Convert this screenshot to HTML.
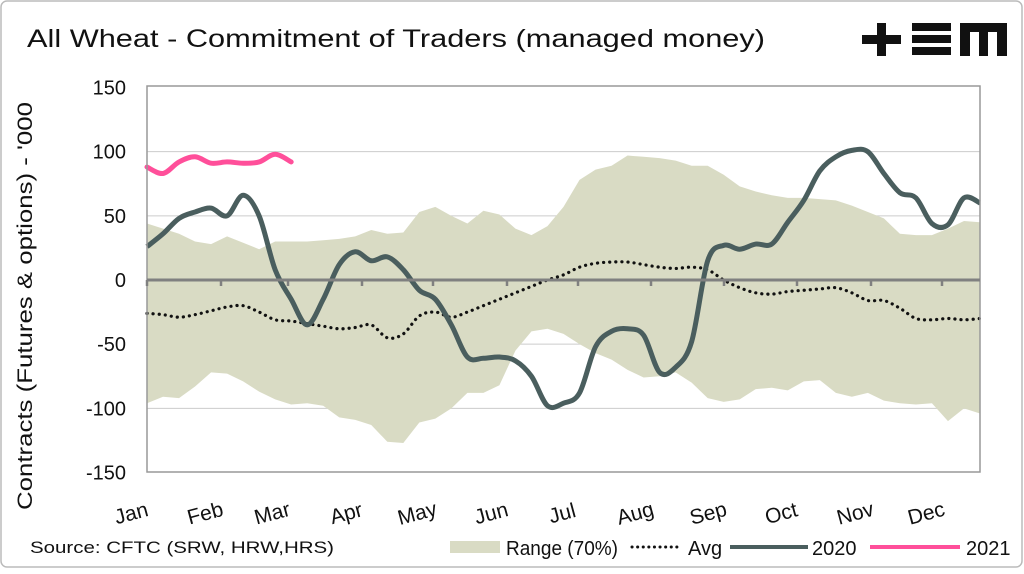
<!DOCTYPE html>
<html><head><meta charset="utf-8"><style>
html,body{margin:0;padding:0;background:#fff;}
body{width:1024px;height:569px;overflow:hidden;font-family:"Liberation Sans",sans-serif;}
</style></head><body>
<svg id="chart" width="1024" height="569" viewBox="0 0 1024 569" xmlns="http://www.w3.org/2000/svg" font-family="Liberation Sans, sans-serif">
<rect x="1" y="1" width="1021" height="566" rx="6" fill="#fff" stroke="#bbb" stroke-width="1.5"/>
<text x="27" y="47" font-size="25" fill="#111" textLength="738" lengthAdjust="spacingAndGlyphs">All Wheat - Commitment of Traders (managed money)</text>
<g fill="#111">
<rect x="862" y="35" width="39" height="9"/><rect x="877" y="23" width="9" height="33"/>
<rect x="912" y="23" width="39" height="8"/><rect x="912" y="35" width="39" height="8"/><rect x="912" y="47" width="39" height="8"/>
<path d="M960 23 H1007 V56 H997 V32 H988 V56 H979 V32 H970 V56 H960 Z"/>
</g>
<g id="grid"></g>
<g id="series"></g>
<rect x="147" y="86" width="833" height="386" fill="none" stroke="#999" stroke-width="1.5"/>
<g id="axes"></g>
<text transform="translate(32,306) rotate(-90)" text-anchor="middle" font-size="21" fill="#111" textLength="408" lengthAdjust="spacingAndGlyphs">Contracts (Futures &amp; options) - '000</text>
<text x="30" y="553" font-size="17" fill="#111" textLength="304" lengthAdjust="spacingAndGlyphs">Source: CFTC (SRW, HRW,HRS)</text>
<g font-size="20" fill="#111">
<rect x="450" y="541" width="50" height="12" fill="#d9dbc4"/>
<text x="506" y="555" textLength="112" lengthAdjust="spacingAndGlyphs">Range (70%)</text>
<line x1="632" y1="547" x2="680" y2="547" stroke="#111" stroke-width="3" stroke-dasharray="0.1 5.5" stroke-linecap="round"/>
<text x="688" y="555">Avg</text>
<line x1="730" y1="547" x2="808" y2="547" stroke="#4a5e5e" stroke-width="4"/>
<text x="812" y="555">2020</text>
<line x1="870" y1="547" x2="960" y2="547" stroke="#ff4f9a" stroke-width="4"/>
<text x="966" y="555">2021</text>
</g>
</svg>
<script>
const months = ["Jan","Feb","Mar","Apr","May","Jun","Jul","Aug","Sep","Oct","Nov","Dec"];
const yTicks = [150,100,50,0,-50,-100,-150];
const s2020 = [26,36,48,53,56,50,66,50,8,-15,-35,-15,12,22,15,18,8,-8,-15,-35,-60,-61,-60,-63,-75,-98,-96,-88,-52,-40,-38,-43,-72,-68,-48,15,27,24,28,28,45,62,85,96,101,100,83,68,64,44,43,64,60];
const s2021 = [88,83,92,96,91,92,91,92,98,92];
const avg = [-26,-27,-29,-27,-24,-21,-20,-25,-31,-32,-34,-36,-38,-37,-35,-45,-42,-28,-25,-29,-25,-20,-15,-10,-5,0,4,10,13,14,14,12,10,9,10,8,0,-6,-10,-11,-9,-8,-7,-6,-10,-16,-16,-22,-30,-31,-30,-31,-30];
const rangeHi = [44,40,36,30,28,34,29,24,30,30,30,31,32,34,39,36,37,53,57,50,44,54,51,40,35,42,57,78,86,89,97,96,95,93,89,89,82,73,69,66,64,64,63,62,58,53,48,36,35,35,40,46,45];
const rangeLo = [-96,-91,-92,-83,-72,-73,-79,-87,-93,-97,-96,-98,-107,-109,-113,-126,-127,-111,-108,-100,-88,-88,-82,-55,-40,-38,-42,-50,-57,-62,-70,-76,-75,-72,-80,-92,-95,-93,-85,-84,-86,-79,-78,-88,-91,-88,-94,-96,-97,-96,-110,-100,-104];

const NS="http://www.w3.org/2000/svg";
const X0=147, X1=980, NW=52;
const xw = i => X0 + i*(X1-X0)/NW;
const yv = v => 280 - v*(385/300);
function mk(tag, attrs, parent){const e=document.createElementNS(NS,tag);for(const k in attrs)e.setAttribute(k,attrs[k]);parent.appendChild(e);return e;}
const grid=document.getElementById('grid'), series=document.getElementById('series'), axes=document.getElementById('axes');

yTicks.forEach(t=>{
  if(t!==0 && Math.abs(t)!==150){
    const l=mk('line',{x1:X0,x2:X1,y1:yv(t),y2:yv(t),stroke:'#ccc','stroke-width':1},grid);
    
    
  }
  const tx=mk('text',{x:126,y:yv(t)+7,'text-anchor':'end','font-size':20,fill:'#111'},axes);
  tx.textContent=t;
  
  
});

let d='M'+rangeHi.map((v,i)=>xw(i)+','+yv(v)).join(' L');
for(let i=rangeLo.length-1;i>=0;i--) d+=' L'+xw(i)+','+yv(rangeLo[i]);
const band=mk('path',{d:d+'Z',fill:'#d9dbc4'},series);



const zl=mk('line',{x1:X0,x2:X1,y1:yv(0),y2:yv(0),stroke:'#808080','stroke-width':3},axes);


const monthTickX=[147,221,288,362,433,507,578,651,724,797,871,942];
months.forEach((m,i)=>{
  const tk=mk('line',{x1:monthTickX[i],x2:monthTickX[i],y1:yv(0),y2:yv(0)+6,stroke:'#808080','stroke-width':2.5},axes);
  
  
  const cx=monthTickX[i]-14;
  const tx=mk('text',{x:0,y:0,'text-anchor':'middle','font-size':21,fill:'#111',transform:`translate(${cx},${520}) rotate(-15)`},axes);
  tx.textContent=m;
  
  
});

function smooth(arr){
  const p=arr.map((v,i)=>[xw(i),yv(v)]);
  let s='M'+p[0][0]+','+p[0][1];
  for(let i=0;i<p.length-1;i++){
    const p0=p[i-1]||p[i],p1=p[i],p2=p[i+1],p3=p[i+2]||p2;
    const c1=[p1[0]+(p2[0]-p0[0])/6,p1[1]+(p2[1]-p0[1])/6];
    const c2=[p2[0]-(p3[0]-p1[0])/6,p2[1]-(p3[1]-p1[1])/6];
    s+=` C${c1[0]},${c1[1]} ${c2[0]},${c2[1]} ${p2[0]},${p2[1]}`;
  }
  return s;
}
const av=mk('path',{d:smooth(avg),fill:'none',stroke:'#111','stroke-width':3.2,'stroke-dasharray':'0.1 6','stroke-linecap':'round'},series);


const l20=mk('path',{d:smooth(s2020),fill:'none',stroke:'#4a5e5e','stroke-width':5,'stroke-linejoin':'round'},series);


const l21=mk('path',{d:smooth(s2021),fill:'none',stroke:'#ff4f9a','stroke-width':5,'stroke-linecap':'round'},series);


</script>
</body></html>
